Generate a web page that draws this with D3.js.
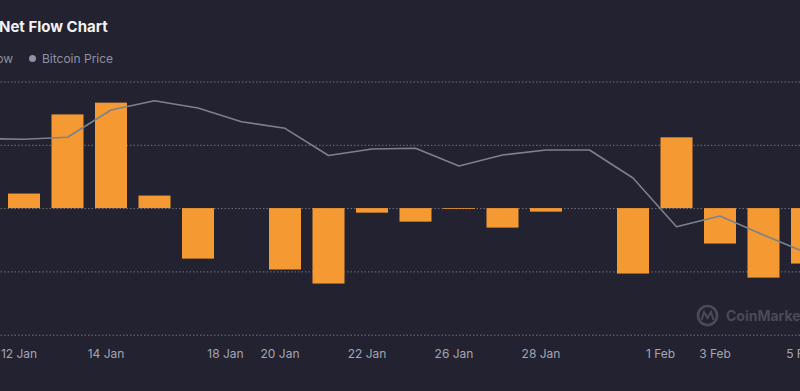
<!DOCTYPE html>
<html>
<head>
<meta charset="utf-8">
<script src="https://cdn.jsdelivr.net/npm/d3@7/dist/d3.min.js"></script>
<style>
  html, body { margin: 0; padding: 0; background: #222230; overflow: hidden; }
  svg { display: block; }
  text { font-family: Inter, "Noto Sans", Roboto, sans-serif; }
</style>
</head>
<body>
<svg id="chart" width="800" height="391"></svg>
<script>
// ---- data ----
const categories = ["11 Jan","12 Jan","13 Jan","14 Jan","16 Jan","17 Jan","18 Jan","20 Jan","21 Jan","22 Jan",
                    "24 Jan","26 Jan","27 Jan","28 Jan","29 Jan","31 Jan","1 Feb","3 Feb","4 Feb","5 Feb"];
const netFlow = [null, 115, 740, 833, 99, -399, null, -485, -596, -36,
                 -107, -6, -154, -28, null, -517, 559, -280, -549, -438];
const bitcoinPrice = [46199, 46174, 46237, 47099, 47393, 47163, 46730, 46521, 45662, 45867,
                      45889, 45330, 45678, 45836, 45836, 44951, 43412, 43750, 43150, 42580];
const tickLabels = ["12 Jan","14 Jan","18 Jan","20 Jan","22 Jan","26 Jan","28 Jan","1 Feb","3 Feb","5 Feb"];
const flowTicks = [-1000, -500, 0, 500, 1000];
const title = "Net Flow Chart";
const legendFlow = "ETF Net Flow";
const legendPrice = "Bitcoin Price";

// ---- layout ----
const W = 800, H = 391;
const plotTop = 81.5, plotBottom = 334.7;
const svg = d3.select("#chart");
svg.append("rect").attr("width", W).attr("height", H).attr("fill", "#222230");

const x = d3.scaleBand().domain(categories).range([-41.25, 828.75]).paddingInner(0.264).paddingOuter(0.132);
const y = d3.scaleLinear().domain([-1000, 1000]).range([plotBottom, plotTop]);
const yPrice = d3.scaleLinear().domain([40000, 48000]).range([plotBottom, plotTop]);

// grid
const grid = svg.append("g")
  .attr("transform", `translate(${W},0)`)
  .call(d3.axisLeft(y).tickValues(flowTicks).tickSize(W).tickFormat(""));
grid.select(".domain").remove();
grid.selectAll(".tick line")
  .attr("stroke", "#71737f").attr("stroke-width", 1).attr("stroke-dasharray", "1.5,2");

// bars
const flowData = categories.map((c, i) => ({c, v: netFlow[i]})).filter(d => d.v !== null);
svg.append("g").selectAll("rect").data(flowData).join("rect")
  .attr("x", d => x(d.c))
  .attr("width", x.bandwidth())
  .attr("y", d => y(Math.max(0, d.v)))
  .attr("height", d => Math.abs(y(d.v) - y(0)))
  .attr("fill", "#f59a32");

// price line
const line = d3.line()
  .x((d, i) => x(categories[i]) + x.bandwidth() / 2)
  .y(d => yPrice(d));
svg.append("path").datum(bitcoinPrice)
  .attr("d", line)
  .attr("fill", "none")
  .attr("stroke", "#7b818f")
  .attr("stroke-width", 1.6)
  .attr("stroke-linejoin", "round");

// x axis
const xAxis = svg.append("g")
  .attr("transform", `translate(0,${plotBottom})`)
  .call(d3.axisBottom(x).tickValues(tickLabels).tickSize(0).tickPadding(15));
xAxis.select(".domain").remove();
xAxis.selectAll(".tick text")
  .attr("fill", "#a3a6b4")
  .attr("font-size", 12)
  .attr("dx", d => {
    const idx = categories.indexOf(d);
    const next = categories[idx + 1];
    return tickLabels.includes(next) ? -16 : -5;
  });

// title
svg.append("text").attr("x", -1).attr("y", 32)
  .attr("font-size", 15).attr("font-weight", 700).attr("fill", "#f2f2f5")
  .text(title);

// legend
svg.append("text").attr("x", 13).attr("y", 62.5).attr("text-anchor", "end")
  .attr("font-size", 12).attr("fill", "#8f92a1").text(legendFlow);
svg.append("circle").attr("cx", 32.5).attr("cy", 58.5).attr("r", 3.5).attr("fill", "#8f92a1");
svg.append("text").attr("x", 42).attr("y", 62.5)
  .attr("font-size", 12).attr("fill", "#8f92a1").text(legendPrice);

// watermark
const wm = svg.append("g").attr("opacity", 0.9);
wm.append("circle").attr("cx", 707.5).attr("cy", 315.5).attr("r", 9.5)
  .attr("fill", "none").attr("stroke", "#4e505d").attr("stroke-width", 2.6);
wm.append("path").attr("d", "M701.5,320 L704,312 L707.5,318 L711,312 L713.5,320")
  .attr("fill", "none").attr("stroke", "#4e505d").attr("stroke-width", 2);
wm.append("text").attr("x", 726).attr("y", 321)
  .attr("font-size", 14).attr("font-weight", 700).attr("fill", "#4e505d").text("CoinMarketCap");
</script>
</body>
</html>
